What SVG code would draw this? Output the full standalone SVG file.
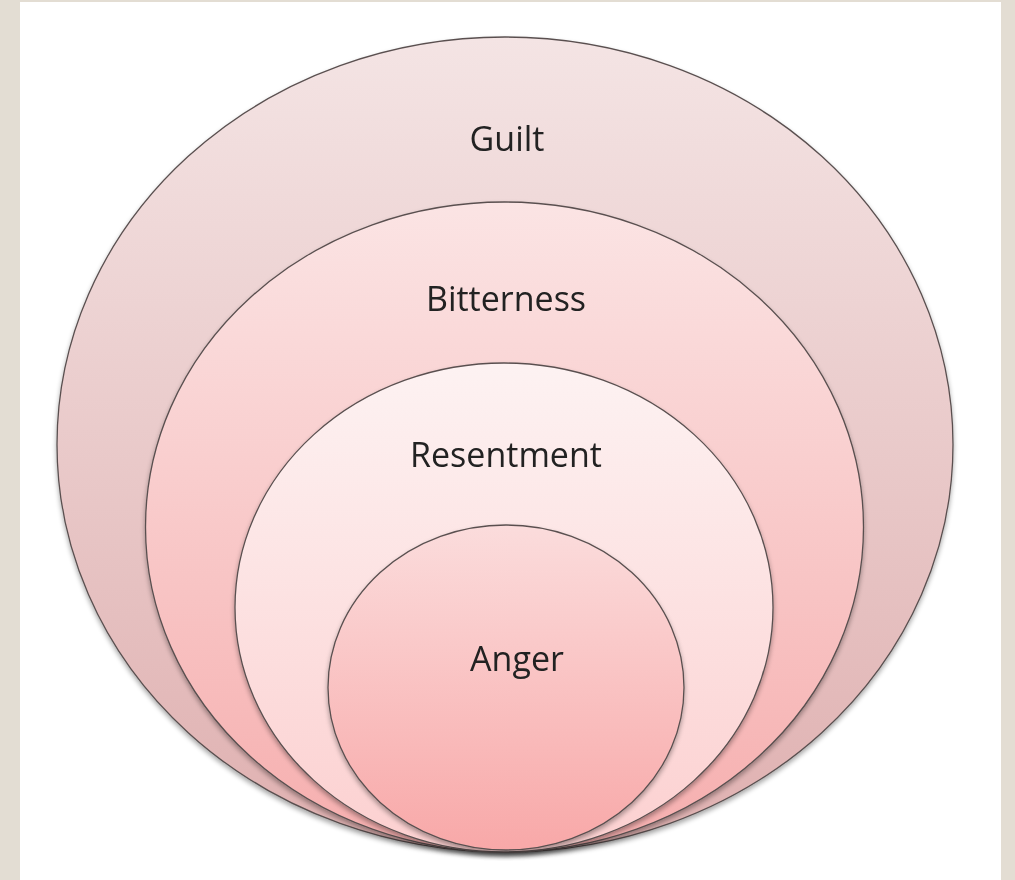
<svg xmlns="http://www.w3.org/2000/svg" width="1015" height="880" viewBox="0 0 1015 880">
<defs>
<linearGradient id="gGuilt" x1="0" y1="0" x2="0" y2="1">
<stop offset="0" stop-color="#f4e4e4"/><stop offset="1" stop-color="#dfb0b0"/>
</linearGradient>
<linearGradient id="gBit" x1="0" y1="0" x2="0" y2="1">
<stop offset="0" stop-color="#fbe4e4"/><stop offset="1" stop-color="#f6aeae"/>
</linearGradient>
<linearGradient id="gRes" x1="0" y1="0" x2="0" y2="1">
<stop offset="0" stop-color="#fdf2f2"/><stop offset="1" stop-color="#fcd0d0"/>
</linearGradient>
<linearGradient id="gAng" x1="0" y1="0" x2="0" y2="1">
<stop offset="0" stop-color="#fbdcdc"/><stop offset="1" stop-color="#f8a8a8"/>
</linearGradient>
<filter id="sh" x="-10%" y="-10%" width="120%" height="120%">
<feGaussianBlur in="SourceAlpha" stdDeviation="2.5"/>
<feOffset dy="3" result="b"/>
<feComponentTransfer><feFuncA type="linear" slope="0.35"/></feComponentTransfer>
<feMerge><feMergeNode/><feMergeNode in="SourceGraphic"/></feMerge>
</filter>
</defs>
<style>
.c{stroke:#5a5050;stroke-width:1.3}
.t{font-family:"Open Sans","Liberation Sans",sans-serif;font-size:34px;font-weight:500;fill:#222;text-anchor:middle}
</style>
<rect x="0" y="0" width="1015" height="880" fill="#e3ddd3"/>
<rect x="20" y="2" width="981" height="878" fill="#ffffff"/>
<g id="guilt" filter="url(#sh)">
<ellipse class="c" cx="505" cy="444.5" rx="448" ry="407.5" fill="url(#gGuilt)"/>
<text class="t" x="507" y="151">Guilt</text>
</g>
<g id="bitterness" filter="url(#sh)">
<ellipse class="c" cx="504.5" cy="527" rx="359" ry="325" fill="url(#gBit)"/>
<text class="t" x="506" y="311">Bitterness</text>
</g>
<g id="resentment" filter="url(#sh)">
<ellipse class="c" cx="504" cy="607.5" rx="269" ry="244.5" fill="url(#gRes)"/>
<text class="t" x="506" y="467">Resentment</text>
</g>
<g id="anger" filter="url(#sh)">
<ellipse class="c" cx="506" cy="687.5" rx="178" ry="162.5" fill="url(#gAng)"/>
<text class="t" x="517" y="671">Anger</text>
</g>
<g id="connectors"/>
</svg>
